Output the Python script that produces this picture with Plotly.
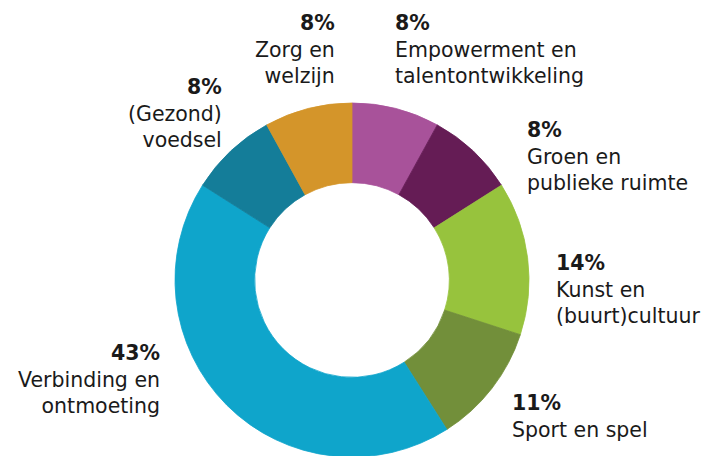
import plotly.graph_objects as go

categories = ["Empowerment en talentontwikkeling", "Groen en publieke ruimte", "Kunst en (buurt)cultuur",
              "Sport en spel", "Verbinding en ontmoeting", "(Gezond) voedsel", "Zorg en welzijn"]
label_lines = [["Empowerment en", "talentontwikkeling"], ["Groen en", "publieke ruimte"],
               ["Kunst en", "(buurt)cultuur"], ["Sport en spel"], ["Verbinding en", "ontmoeting"],
               ["(Gezond)", "voedsel"], ["Zorg en", "welzijn"]]
values = [8, 8, 14, 11, 43, 8, 8]
colors = ["#A8529A", "#651C55", "#97C33D", "#728F3A", "#0FA5CB", "#147D99", "#D4952A"]

W, H = 712, 456
OFF = 8  # page body margin offset
# label layout (pixel anchor x, pixel middle y, side) in window coordinates
label_pos = [(393, 50, "left"), (525, 156, "left"), (554, 289, "left"), (510, 416, "left"),
             (162, 379, "right"), (224, 113, "right"), (337, 50, "right")]

def px2x(px):
    return (px - OFF) / W

def py2y(py):
    return 1 - (py - OFF) / H

fig = go.Figure(go.Pie(
    labels=categories, values=values, sort=False, direction="clockwise", rotation=0,
    hole=0.55, marker=dict(colors=colors, line=dict(width=0.8, color=colors)),
    textinfo="none", hoverinfo="label+percent",
    domain=dict(x=[px2x(175), px2x(529)], y=[py2y(457), py2y(103)]),
))

font = "DejaVu Sans"
anns = []
for val, lines, (px, py, side) in zip(values, label_lines, label_pos):
    text = "<b>%d%%</b><br>" % val + "<br>".join(lines)
    anns.append(dict(x=px2x(px), y=py2y(py), xref="paper", yref="paper", text=text,
                     showarrow=False, xanchor=side, yanchor="middle", align=side,
                     font=dict(family=font, size=20.5, color="#1a1a1a")))

fig.update_layout(width=W, height=H, margin=dict(l=0, r=0, t=0, b=0),
                  paper_bgcolor="white", plot_bgcolor="white", showlegend=False,
                  annotations=anns)
fig.write_html("out.html")
